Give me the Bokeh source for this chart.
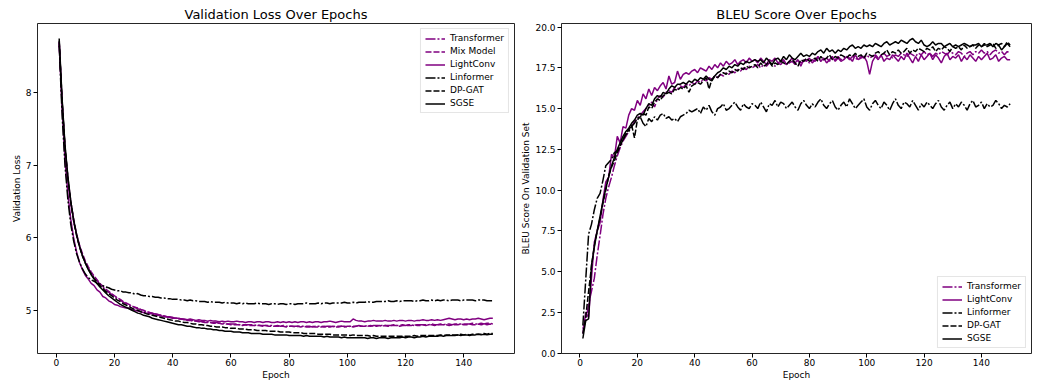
from bokeh.plotting import figure
from bokeh.layouts import row
from bokeh.models import FixedTicker, PrintfTickFormatter
from bokeh.embed import file_html
from bokeh.resources import INLINE

epochs = list(range(1, 151))

# ---------------- Validation loss ----------------
loss_transformer = [
    8.68, 7.86, 7.22, 6.79, 6.47, 6.22, 6.03, 5.88, 5.76, 5.66,
    5.58, 5.51, 5.46, 5.41, 5.36, 5.32, 5.28, 5.25, 5.22, 5.19,
    5.16, 5.14, 5.11, 5.09, 5.07, 5.05, 5.04, 5.02, 5.01, 4.99,
    4.98, 4.97, 4.96, 4.95, 4.94, 4.93, 4.92, 4.91, 4.91, 4.90,
    4.89, 4.89, 4.88, 4.87, 4.87, 4.86, 4.86, 4.85, 4.85, 4.84,
    4.84, 4.84, 4.83, 4.83, 4.83, 4.82, 4.82, 4.82, 4.81, 4.81,
    4.81, 4.81, 4.80, 4.80, 4.80, 4.80, 4.80, 4.79, 4.80, 4.79,
    4.79, 4.79, 4.79, 4.79, 4.78, 4.79, 4.78, 4.79, 4.78, 4.78,
    4.78, 4.78, 4.78, 4.78, 4.78, 4.78, 4.78, 4.77, 4.78, 4.78,
    4.78, 4.77, 4.78, 4.78, 4.77, 4.78, 4.78, 4.78, 4.78, 4.77,
    4.78, 4.78, 4.78, 4.79, 4.78, 4.78, 4.79, 4.78, 4.79, 4.79,
    4.79, 4.79, 4.79, 4.79, 4.79, 4.80, 4.79, 4.79, 4.80, 4.79,
    4.80, 4.80, 4.79, 4.80, 4.80, 4.80, 4.80, 4.80, 4.81, 4.80,
    4.80, 4.81, 4.80, 4.81, 4.81, 4.80, 4.81, 4.81, 4.81, 4.81,
    4.81, 4.81, 4.82, 4.81, 4.81, 4.82, 4.81, 4.82, 4.82, 4.81,
]
loss_mix = [
    8.70, 7.88, 7.25, 6.82, 6.50, 6.25, 6.05, 5.90, 5.78, 5.68,
    5.60, 5.53, 5.47, 5.42, 5.37, 5.33, 5.29, 5.26, 5.23, 5.20,
    5.17, 5.15, 5.12, 5.10, 5.08, 5.06, 5.04, 5.03, 5.01, 5.00,
    4.98, 4.97, 4.96, 4.95, 4.94, 4.93, 4.92, 4.91, 4.90, 4.90,
    4.89, 4.88, 4.88, 4.87, 4.86, 4.86, 4.85, 4.85, 4.84, 4.84,
    4.83, 4.83, 4.83, 4.82, 4.82, 4.82, 4.81, 4.81, 4.81, 4.80,
    4.80, 4.80, 4.80, 4.79, 4.80, 4.79, 4.79, 4.79, 4.79, 4.79,
    4.78, 4.79, 4.78, 4.78, 4.78, 4.78, 4.78, 4.78, 4.77, 4.78,
    4.78, 4.77, 4.78, 4.77, 4.78, 4.77, 4.77, 4.78, 4.77, 4.77,
    4.77, 4.78, 4.77, 4.77, 4.78, 4.77, 4.77, 4.78, 4.77, 4.78,
    4.78, 4.77, 4.78, 4.78, 4.78, 4.78, 4.78, 4.79, 4.78, 4.78,
    4.79, 4.78, 4.79, 4.78, 4.79, 4.79, 4.79, 4.78, 4.79, 4.79,
    4.79, 4.79, 4.80, 4.79, 4.79, 4.80, 4.79, 4.80, 4.80, 4.79,
    4.80, 4.80, 4.80, 4.80, 4.79, 4.80, 4.80, 4.80, 4.81, 4.80,
    4.80, 4.81, 4.80, 4.80, 4.81, 4.80, 4.81, 4.80, 4.81, 4.80,
]
loss_lightconv = [
    8.70, 7.80, 7.08, 6.60, 6.25, 5.99, 5.80, 5.66, 5.56, 5.48,
    5.43, 5.37, 5.34, 5.28, 5.25, 5.19, 5.17, 5.13, 5.11, 5.08,
    5.07, 5.05, 5.04, 5.03, 5.03, 5.01, 5.00, 4.99, 4.98, 4.97,
    4.96, 4.95, 4.95, 4.93, 4.93, 4.92, 4.91, 4.91, 4.90, 4.89,
    4.89, 4.89, 4.88, 4.88, 4.87, 4.88, 4.87, 4.86, 4.87, 4.86,
    4.86, 4.85, 4.86, 4.85, 4.85, 4.84, 4.85, 4.84, 4.85, 4.84,
    4.84, 4.85, 4.84, 4.84, 4.83, 4.84, 4.84, 4.83, 4.84, 4.84,
    4.83, 4.84, 4.84, 4.83, 4.83, 4.84, 4.83, 4.84, 4.83, 4.84,
    4.83, 4.84, 4.83, 4.84, 4.84, 4.83, 4.84, 4.83, 4.84, 4.84,
    4.83, 4.84, 4.84, 4.85, 4.84, 4.83, 4.84, 4.85, 4.84, 4.84,
    4.84, 4.88, 4.86, 4.85, 4.85, 4.84, 4.85, 4.85, 4.86, 4.85,
    4.85, 4.85, 4.86, 4.85, 4.85, 4.86, 4.85, 4.86, 4.86, 4.85,
    4.86, 4.86, 4.85, 4.86, 4.86, 4.87, 4.86, 4.86, 4.87, 4.86,
    4.87, 4.86, 4.87, 4.88, 4.89, 4.88, 4.87, 4.88, 4.88, 4.87,
    4.88, 4.87, 4.88, 4.88, 4.89, 4.88, 4.87, 4.88, 4.89, 4.89,
]
loss_linformer = [
    8.65, 7.70, 7.00, 6.52, 6.18, 5.95, 5.78, 5.66, 5.57, 5.50,
    5.45, 5.42, 5.40, 5.37, 5.36, 5.34, 5.32, 5.31, 5.29, 5.28,
    5.27, 5.27, 5.25, 5.25, 5.24, 5.24, 5.22, 5.23, 5.21, 5.20,
    5.20, 5.19, 5.19, 5.18, 5.18, 5.17, 5.17, 5.16, 5.16, 5.15,
    5.15, 5.15, 5.14, 5.14, 5.13, 5.14, 5.13, 5.13, 5.12, 5.12,
    5.12, 5.11, 5.12, 5.11, 5.11, 5.11, 5.10, 5.11, 5.10, 5.10,
    5.10, 5.09, 5.10, 5.09, 5.10, 5.09, 5.09, 5.09, 5.10, 5.09,
    5.09, 5.09, 5.08, 5.09, 5.09, 5.08, 5.09, 5.09, 5.08, 5.09,
    5.09, 5.08, 5.09, 5.09, 5.09, 5.10, 5.09, 5.09, 5.09, 5.10,
    5.09, 5.10, 5.10, 5.09, 5.10, 5.10, 5.10, 5.10, 5.11, 5.10,
    5.10, 5.11, 5.10, 5.11, 5.11, 5.11, 5.12, 5.11, 5.11, 5.12,
    5.12, 5.12, 5.12, 5.13, 5.12, 5.12, 5.13, 5.12, 5.13, 5.13,
    5.13, 5.13, 5.12, 5.13, 5.13, 5.14, 5.13, 5.13, 5.14, 5.13,
    5.14, 5.13, 5.14, 5.14, 5.13, 5.14, 5.14, 5.14, 5.13, 5.14,
    5.14, 5.14, 5.14, 5.13, 5.14, 5.14, 5.14, 5.13, 5.13, 5.13,
]
loss_dpgat = [
    8.72, 7.90, 7.26, 6.82, 6.49, 6.23, 6.03, 5.87, 5.75, 5.65,
    5.57, 5.50, 5.44, 5.39, 5.34, 5.30, 5.26, 5.23, 5.20, 5.17,
    5.14, 5.12, 5.09, 5.07, 5.05, 5.03, 5.01, 5.00, 4.98, 4.97,
    4.95, 4.94, 4.93, 4.92, 4.91, 4.90, 4.89, 4.88, 4.87, 4.86,
    4.85, 4.85, 4.84, 4.83, 4.83, 4.82, 4.81, 4.81, 4.80, 4.80,
    4.79, 4.79, 4.78, 4.78, 4.77, 4.77, 4.77, 4.76, 4.76, 4.75,
    4.75, 4.75, 4.74, 4.74, 4.74, 4.73, 4.73, 4.73, 4.72, 4.72,
    4.72, 4.72, 4.71, 4.71, 4.71, 4.71, 4.70, 4.70, 4.70, 4.70,
    4.69, 4.69, 4.69, 4.69, 4.68, 4.68, 4.68, 4.68, 4.68, 4.67,
    4.67, 4.67, 4.67, 4.67, 4.66, 4.66, 4.66, 4.66, 4.66, 4.66,
    4.65, 4.66, 4.65, 4.65, 4.65, 4.65, 4.65, 4.64, 4.65, 4.64,
    4.64, 4.64, 4.64, 4.64, 4.64, 4.64, 4.64, 4.64, 4.64, 4.64,
    4.64, 4.64, 4.65, 4.64, 4.65, 4.65, 4.65, 4.65, 4.65, 4.65,
    4.65, 4.66, 4.65, 4.66, 4.66, 4.66, 4.66, 4.66, 4.67, 4.66,
    4.67, 4.66, 4.67, 4.67, 4.67, 4.67, 4.68, 4.67, 4.68, 4.68,
]
loss_sgse = [
    8.75, 7.92, 7.28, 6.84, 6.50, 6.24, 6.04, 5.88, 5.75, 5.65,
    5.56, 5.49, 5.43, 5.37, 5.32, 5.28, 5.24, 5.20, 5.17, 5.14,
    5.11, 5.08, 5.06, 5.04, 5.02, 5.00, 4.98, 4.96, 4.95, 4.93,
    4.92, 4.91, 4.89, 4.88, 4.87, 4.86, 4.85, 4.84, 4.83, 4.82,
    4.81, 4.80, 4.80, 4.79, 4.78, 4.78, 4.77, 4.76, 4.76, 4.75,
    4.75, 4.74, 4.74, 4.73, 4.73, 4.72, 4.72, 4.71, 4.71, 4.71,
    4.70, 4.70, 4.70, 4.69, 4.69, 4.69, 4.68, 4.68, 4.68, 4.68,
    4.67, 4.67, 4.67, 4.67, 4.66, 4.66, 4.66, 4.66, 4.66, 4.65,
    4.65, 4.65, 4.65, 4.65, 4.64, 4.65, 4.64, 4.64, 4.64, 4.64,
    4.64, 4.63, 4.64, 4.63, 4.63, 4.63, 4.63, 4.62, 4.63, 4.62,
    4.62, 4.62, 4.62, 4.62, 4.62, 4.62, 4.61, 4.62, 4.62, 4.61,
    4.62, 4.62, 4.62, 4.61, 4.62, 4.62, 4.62, 4.62, 4.63, 4.62,
    4.63, 4.63, 4.62, 4.63, 4.63, 4.64, 4.63, 4.64, 4.64, 4.64,
    4.64, 4.65, 4.64, 4.65, 4.65, 4.65, 4.65, 4.66, 4.65, 4.66,
    4.66, 4.65, 4.66, 4.66, 4.67, 4.66, 4.67, 4.66, 4.67, 4.67,
]

# ---------------- BLEU ----------------
bleu_transformer = [
    1.5, 2.0, 3.0, 3.8, 4.6, 6.0, 7.2, 8.5, 9.5, 10.2,
    10.8, 11.5, 12.1, 12.6, 13.0, 13.3, 13.6, 13.9, 14.2, 14.4,
    14.6, 14.8, 15.0, 15.2, 15.4, 15.1, 15.6, 15.8, 15.7, 16.0,
    16.1, 16.0, 16.3, 16.2, 16.4, 16.3, 16.5, 16.4, 16.6, 16.5,
    16.7, 16.6, 16.8, 16.7, 16.9, 16.8, 17.0, 16.9, 17.1, 17.0,
    17.2, 17.1, 17.3, 17.2, 17.4, 17.3, 17.5, 17.4, 17.6, 17.5,
    17.6, 17.7, 17.5, 17.7, 17.6, 17.8, 17.7, 17.6, 17.8, 17.7,
    17.9, 17.7, 17.8, 17.9, 17.7, 18.0, 17.8, 17.9, 18.0, 17.8,
    18.0, 17.9, 18.1, 17.9, 18.0, 18.1, 17.9, 18.1, 18.0, 18.2,
    18.0, 18.1, 18.2, 18.0, 18.2, 18.1, 18.0, 18.2, 18.1, 18.3,
    18.1, 18.2, 18.3, 18.1, 18.2, 18.4, 18.2, 18.3, 18.1, 18.3,
    18.2, 18.4, 18.3, 18.2, 18.4, 18.3, 18.2, 18.4, 18.3, 18.5,
    18.3, 18.4, 18.2, 18.4, 18.3, 18.5, 18.4, 18.3, 18.5, 18.4,
    18.3, 18.5, 18.4, 18.2, 18.4, 18.5, 18.3, 18.5, 18.4, 18.6,
    18.4, 18.5, 18.3, 18.5, 18.6, 18.4, 18.5, 18.3, 18.5, 18.4,
]
bleu_lightconv = [
    1.2, 2.5, 2.2, 4.6, 6.8, 7.5, 8.0, 9.4, 10.5, 10.8,
    12.2, 12.0, 13.3, 12.9, 13.9, 13.8, 14.6, 15.0, 14.9, 15.5,
    15.2, 15.9, 15.6, 16.2, 15.8, 16.3, 16.1, 16.4, 16.6, 16.2,
    17.0, 16.5, 16.6, 17.3, 16.8, 17.1, 17.2, 17.1, 17.3, 17.4,
    17.2, 17.5, 17.4, 17.3, 17.6, 17.4, 17.7, 17.5, 17.8, 17.6,
    17.9, 17.7, 17.8, 18.0, 17.7, 17.9, 18.0, 17.8, 18.1, 17.9,
    18.0, 17.8, 18.1, 17.9, 17.7, 18.0, 17.9, 18.1, 17.8, 17.9,
    18.0, 17.7, 17.9, 18.1, 17.8, 18.0, 17.6, 18.0, 17.9, 18.1,
    17.8, 18.0, 18.2, 17.9, 18.1, 17.8, 18.0, 18.2, 17.9, 18.1,
    17.9, 18.0, 18.2, 18.1, 17.9, 18.3, 18.0, 18.1, 18.2, 17.9,
    17.1, 17.9, 18.2, 18.0, 18.3, 17.9, 18.1, 18.0, 18.3, 18.1,
    17.9, 18.2, 18.0, 18.4, 18.1, 17.8, 18.2, 17.9, 18.3, 18.0,
    18.2, 18.4, 18.0, 18.3, 18.1, 17.8, 18.2, 18.4, 18.0, 18.2,
    18.1, 18.3, 17.9, 18.2, 18.0, 18.3, 18.1, 17.9, 18.2, 18.0,
    18.2, 18.4, 18.0, 18.1, 18.3, 17.9, 18.1, 18.2, 18.0, 18.0,
]
bleu_linformer = [
    1.7, 4.5, 7.3, 7.9, 8.8, 9.5, 9.8, 10.6, 11.5, 11.7,
    11.9, 12.3, 12.4, 12.8, 13.1, 13.4, 13.6, 13.9, 14.1, 14.4,
    14.5, 14.1, 13.9, 14.4, 14.2, 14.5, 14.3, 14.6, 14.7, 14.4,
    14.5, 14.3, 14.4, 14.2, 14.5, 14.6, 14.7, 14.9, 14.8, 14.9,
    15.0, 14.7, 15.1, 14.9, 15.2, 14.8, 14.6, 15.0, 15.1, 15.3,
    14.9, 15.0, 15.2, 15.4, 15.1, 14.9, 15.3, 15.1, 15.0, 15.3,
    15.2, 15.0, 15.4, 15.1, 14.8, 15.3, 15.2, 15.5, 15.1, 15.4,
    15.3, 15.0, 15.2, 15.4, 15.1, 14.9, 15.3, 15.5, 15.2, 15.0,
    15.3, 15.1, 15.4, 15.6, 15.2, 15.0, 15.3, 15.5, 15.1, 14.9,
    15.2, 15.4, 15.1, 15.6, 15.3, 15.0, 15.2, 15.4, 15.6, 15.1,
    14.9, 15.3, 15.5, 15.2, 15.0, 15.4, 15.2, 14.9, 15.3, 15.6,
    15.2, 15.0, 15.4, 15.3, 15.1, 15.5, 15.2, 14.9, 15.3, 15.1,
    15.4, 15.2, 15.0, 15.3, 15.5, 15.1, 14.9, 15.2, 15.4, 15.0,
    15.3, 15.1, 15.4, 15.2, 14.9, 15.3, 15.5, 15.1, 15.2, 15.4,
    15.0, 15.3, 15.1, 15.2, 15.5, 15.3, 15.0, 15.2, 15.1, 15.3,
]
bleu_dpgat = [
    1.2, 2.2, 3.8, 5.3, 6.6, 7.5, 8.3, 9.2, 10.0, 10.9,
    11.4, 11.8, 12.3, 12.7, 13.1, 13.5, 13.7, 14.0, 13.2, 14.3,
    14.5, 14.7, 14.6, 15.1, 15.0, 15.4, 15.6, 15.5, 15.8, 15.9,
    16.0, 15.9, 16.2, 16.1, 16.3, 16.2, 16.4, 16.0, 16.4, 16.5,
    16.6, 16.5, 16.7, 16.9, 16.2, 16.8, 17.0, 16.9, 17.1, 17.2,
    17.1, 17.3, 17.2, 17.4, 17.3, 17.5, 17.4, 17.6, 17.5, 17.6,
    17.7, 17.5, 17.8, 17.6, 17.7, 17.9, 17.6, 17.8, 17.7, 17.9,
    17.8, 17.7, 17.9, 18.0, 17.8, 17.6, 18.0, 17.9, 18.1, 17.9,
    18.0, 18.1, 17.9, 18.2, 18.0, 18.1, 18.3, 18.0, 18.2, 18.1,
    18.3, 18.2, 18.1, 18.3, 18.2, 18.4, 18.2, 18.3, 18.1, 18.4,
    18.3, 18.2, 18.4, 18.5, 18.3, 18.4, 18.6, 18.3, 18.5, 18.4,
    18.6, 18.4, 18.5, 18.7, 18.4, 18.6, 18.5, 18.7, 18.6, 18.5,
    18.7, 18.6, 18.8, 18.5, 18.7, 18.6, 18.8, 18.7, 18.5, 18.8,
    18.7, 18.8, 18.6, 18.9, 18.7, 18.8, 18.9, 18.7, 18.9, 18.8,
    19.0, 18.8, 18.9, 19.0, 18.7, 18.9, 19.0, 18.8, 19.1, 18.9,
]
bleu_sgse = [
    0.9, 2.0, 2.1, 5.4, 6.5, 7.5, 8.4, 9.3, 10.1, 10.8,
    11.5, 12.0, 12.5, 12.9, 13.3, 13.6, 13.8, 14.1, 14.3, 14.6,
    14.7, 14.6, 15.0, 15.3, 15.2, 15.6, 15.8, 15.7, 16.0, 15.9,
    16.2, 16.4, 16.3, 16.5, 16.5, 16.6, 16.5, 16.7, 16.6, 16.8,
    16.7, 16.9, 16.8, 17.0, 16.8, 16.7, 17.0, 17.2, 17.3, 17.5,
    17.4, 17.6, 17.5, 17.7, 17.6, 17.8, 17.7, 17.9, 17.8, 17.9,
    18.0, 17.9, 18.0, 17.8, 18.1, 17.9, 17.7, 18.0, 18.1, 17.9,
    18.2, 18.0, 18.3, 18.1, 18.0, 18.2, 18.4, 18.2, 18.3, 18.2,
    18.4, 18.3, 18.5, 18.6, 18.4, 18.7, 18.5, 18.6, 18.4, 18.6,
    18.5, 18.7, 18.6, 18.8, 18.9, 18.7, 18.8, 18.7, 18.9, 18.8,
    18.9, 18.8, 19.0, 18.9, 18.8, 19.0, 19.1, 18.9, 19.0, 19.1,
    19.0, 19.2, 19.1, 19.0, 19.2, 19.3, 19.1, 19.0, 19.2, 18.9,
    18.8, 18.9, 19.1, 18.9, 19.0, 19.0, 18.8, 18.9, 19.0, 18.8,
    18.9, 18.8, 18.9, 19.0, 18.9, 18.8, 18.9, 18.9, 19.0, 18.8,
    18.9, 18.9, 19.0, 18.8, 19.0, 18.9, 18.6, 18.8, 19.0, 18.8,
]

x_ticks = [0, 20, 40, 60, 80, 100, 120, 140]
loss_ticks = [5, 6, 7, 8]
bleu_ticks = [0.0, 2.5, 5.0, 7.5, 10.0, 12.5, 15.0, 17.5, 20.0]

PURPLE = "#800080"
FONT = "DejaVu Sans"
DASHDOT = "10 2 2 2"
DASHED = "6 2"


def padded(arrays, frac=0.05):
    lo = min(min(a) for a in arrays)
    hi = max(max(a) for a in arrays)
    pad = (hi - lo) * frac
    return (lo - pad, hi + pad)


xr = padded([epochs])


def style(p, xlabel, ylabel):
    p.title.text_font = FONT
    p.title.text_font_size = "13px"
    p.title.text_font_style = "normal"
    p.title.align = "center"
    p.title.text_color = "black"
    p.title.standoff = 3
    p.xgrid.visible = False
    p.ygrid.visible = False
    p.outline_line_color = "black"
    p.outline_line_width = 1
    p.outline_line_alpha = 0.85
    for ax in (p.xaxis[0], p.yaxis[0]):
        ax.axis_line_color = None
        ax.major_tick_line_color = "black"
        ax.major_tick_out = 4
        ax.major_tick_in = 0
        ax.minor_tick_line_color = None
        ax.major_label_text_font = FONT
        ax.major_label_text_font_size = "9px"
        ax.major_label_text_color = "black"
        ax.axis_label_text_font = FONT
        ax.axis_label_text_font_size = "9px"
        ax.axis_label_text_font_style = "normal"
        ax.axis_label_text_color = "black"
        ax.axis_label_standoff = 1
    p.xaxis[0].major_label_standoff = 1
    p.yaxis[0].major_label_standoff = 2
    p.xaxis[0].axis_label = xlabel
    p.yaxis[0].axis_label = ylabel
    p.xaxis[0].ticker = FixedTicker(ticks=x_ticks)


def style_legend(p, loc):
    lg = p.legend[0]
    lg.location = loc
    lg.margin = 5
    lg.padding = 4
    lg.spacing = 3
    lg.glyph_width = 20
    lg.glyph_height = 9
    lg.label_height = 9
    lg.label_standoff = 5
    lg.label_text_font = FONT
    lg.label_text_font_size = "9px"
    lg.label_text_color = "black"
    lg.border_line_color = "#cccccc"
    lg.border_line_width = 1
    lg.background_fill_alpha = 0.8


# ---------- left figure ----------
p1 = figure(
    title="Validation Loss Over Epochs",
    frame_width=477, frame_height=330,
    min_border_left=37, min_border_right=4, min_border_top=23, min_border_bottom=24,
    x_range=xr,
    y_range=padded([loss_transformer, loss_mix, loss_lightconv, loss_linformer, loss_dpgat, loss_sgse]),
    output_backend="svg", toolbar_location=None,
)
style(p1, "Epoch", "Validation Loss")
p1.yaxis[0].ticker = FixedTicker(ticks=loss_ticks)

p1.line(epochs, loss_transformer, line_color=PURPLE, line_width=1.5, line_dash=DASHDOT, legend_label="Transformer")
p1.line(epochs, loss_mix, line_color=PURPLE, line_width=1.5, line_dash=DASHED, legend_label="Mix Model")
p1.line(epochs, loss_lightconv, line_color=PURPLE, line_width=1.5, legend_label="LightConv")
p1.line(epochs, loss_linformer, line_color="black", line_width=1.5, line_dash=DASHDOT, legend_label="Linformer")
p1.line(epochs, loss_dpgat, line_color="black", line_width=1.5, line_dash=DASHED, legend_label="DP-GAT")
p1.line(epochs, loss_sgse, line_color="black", line_width=1.5, legend_label="SGSE")
style_legend(p1, "top_right")

# ---------- right figure ----------
p2 = figure(
    title="BLEU Score Over Epochs",
    frame_width=470, frame_height=330,
    min_border_left=43, min_border_right=4, min_border_top=23, min_border_bottom=24,
    x_range=xr,
    y_range=padded([bleu_transformer, bleu_lightconv, bleu_linformer, bleu_dpgat, bleu_sgse]),
    output_backend="svg", toolbar_location=None,
)
style(p2, "Epoch", "BLEU Score On Validation Set")
p2.yaxis[0].ticker = FixedTicker(ticks=bleu_ticks)
p2.yaxis[0].formatter = PrintfTickFormatter(format="%.1f")

p2.line(epochs, bleu_transformer, line_color=PURPLE, line_width=1.5, line_dash=DASHDOT, legend_label="Transformer")
p2.line(epochs, bleu_lightconv, line_color=PURPLE, line_width=1.5, legend_label="LightConv")
p2.line(epochs, bleu_linformer, line_color="black", line_width=1.5, line_dash=DASHDOT, legend_label="Linformer")
p2.line(epochs, bleu_dpgat, line_color="black", line_width=1.5, line_dash=DASHED, legend_label="DP-GAT")
p2.line(epochs, bleu_sgse, line_color="black", line_width=1.5, legend_label="SGSE")
style_legend(p2, "bottom_right")

layout = row(p1, p2)
open("out.html", "w").write(file_html(layout, INLINE))
